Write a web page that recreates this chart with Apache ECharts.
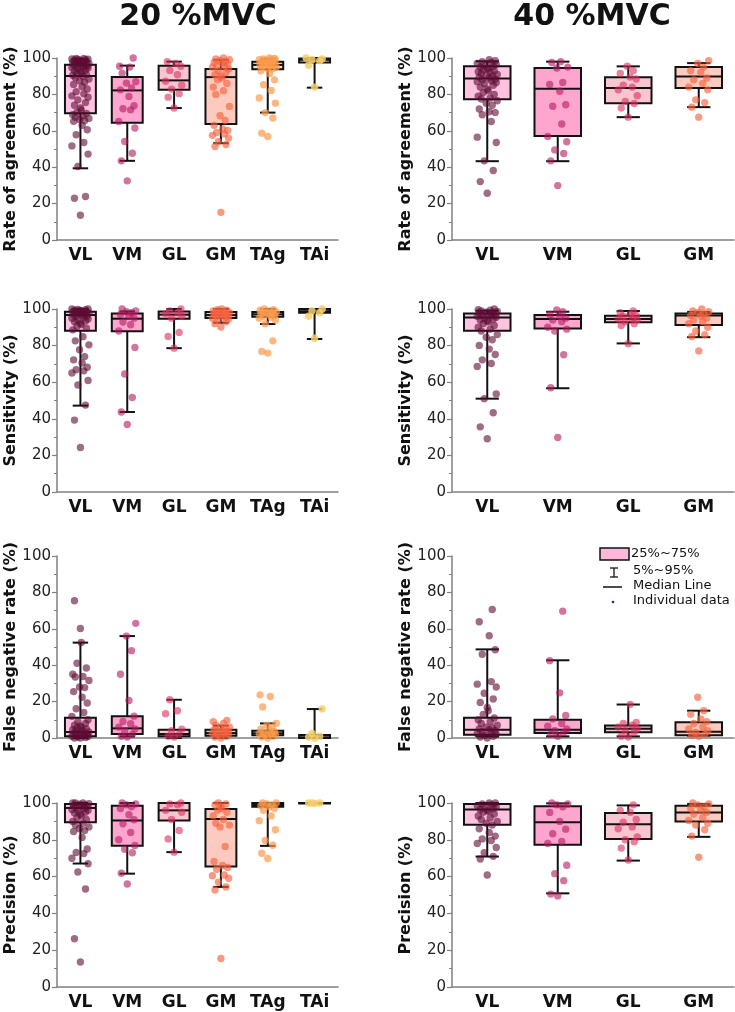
<!DOCTYPE html>
<html>
<head>
<meta charset="utf-8">
<script src="https://cdn.jsdelivr.net/npm/echarts@6/dist/echarts.min.js"></script>
<style>
html,body{margin:0;padding:0;background:#fff;}
#chart{width:735px;height:1012px;}
</style>
</head>
<body>
<div id="chart"></div>
<script>
// ---------- categories / labels ----------
const CAT20 = ['VL', 'VM', 'GL', 'GM', 'TAg', 'TAi'];
const CAT40 = ['VL', 'VM', 'GL', 'GM'];
const Y_NAMES = ['Rate of agreement (%)', 'Sensitivity (%)', 'False negative rate (%)', 'Precision (%)'];
const TITLES = ['20 %MVC', '40 %MVC'];
const LEGEND_LABELS = ['25%~75%', '5%~95%', 'Median Line', 'Individual data'];

// ---------- box statistics: [p5, q1, median, q3, p95] ----------
const AGREE20_BOX = [[39.4,69.7,90.1,96.3,99.4],[43.5,64.4,82.2,89.5,95.8],[72.5,82.6,87.7,95.8,98],[53.2,63.7,89.5,94,99],[70,93.8,96.2,98,99.5],[83.7,97.5,99,99.7,100]];
const AGREE40_BOX = [[43.3,77.4,88.8,95.4,98.2],[43.3,57.2,83.1,94.5,98],[67.5,75.2,83.5,89.4,95.4],[73,83.5,89.9,95,97.2]];
const SENS20_BOX = [[47.2,88.1,96.7,98.5,100],[43.7,87.8,94.7,97.6,98.7],[78.6,94.7,96.9,98.7,100],[92.5,95.1,96.7,98.4,100],[91.8,95.8,97.1,98.4,100],[83.6,98,98.8,100,100]];
const SENS40_BOX = [[51,88.1,95.4,97.6,99.1],[56.7,89.4,94.5,96.7,98.5],[81.2,92.7,94.5,96.3,98.9],[84.6,91.2,96.5,97.6,98.4]];
const FNR20_BOX = [[0,0.9,3.3,11.1,52.4],[0.9,2.2,5.3,11.9,56],[0,0.9,2.2,4.6,21],[0,1.3,2.7,4.6,6.8],[0,1.5,2.6,4,8],[0,0,0.4,1.6,15.9]];
const FNR40_BOX = [[0.9,1.8,4.6,11.1,48.7],[0.9,2.7,4.6,10,42.7],[0.9,3.1,5.1,6.8,18.4],[1.3,1.5,3.5,8.6,15]];
const PREC20_BOX = [[67.1,89.5,97.3,99.5,100],[61.6,76.7,90.5,98.5,100],[73.3,90.5,96,100,100],[54.4,65.5,91.3,96.7,100],[76.7,98,98.9,100,100],[100,100,100,100,100]];
const PREC40_BOX = [[70.9,88.2,96.4,99.5,100],[50.9,77.3,89.6,98.2,99.8],[68.7,80.5,88.5,94.5,98.7],[81.6,90,94.9,98.5,99.5]];

// ---------- individual data ----------
const AGREE20_PTS = [
  [13.6,22.9,23.9,40.4,47.2,51.7,53.6,57.8,60.6,63,65.2,65.7,66.2,66.8,67.5,68.3,68.8,69.5,70.2,71.5,72.5,74,75.5,77,78.5,79.2,80.3,81.5,83,84.2,85.5,86.7,87.5,88.4,89.2,90,90.5,91,91.5,92.2,92.8,93,93.4,94,94.5,94.6,95.1,95.5,95.6,96,96.2,96.4,96.8,97,97.2,97.5,97.8,98,98.1,98.4,98.7,98.8,99,99.2,99.3,99.5,99.7,99.8],
  [32.5,43.5,47.7,54.1,61.5,65.1,71.5,72.1,73.8,78.9,82.5,83.5,86.2,87,91.7,95,95.5,100],
  [72.5,78.5,80.4,82.9,85,87.2,90.8,93.2,95.5,97,98],
  [15.2,51.4,52.5,54,56,57.5,58.3,59.1,60.2,61,63,65.7,68.3,73.4,80,82,84,86,88,89,90,91,92,93,94,95,95.5,96,96.5,97,97.5,98,98.5,99,99.5,100],
  [56.9,58.7,67,70,75.2,78,82.2,85.3,88,91.4,93,94,94.5,95,95.5,96,96.3,96.6,97,97.3,97.6,98,98.2,98.5,98.8,99,99.2,99.5,99.7,100],
  [84,96,98.5,99,99.5,100]
];
const AGREE40_PTS = [
  [25.7,32.1,38.2,43.5,53.6,56.5,65.1,68.8,70,70.5,72,74,75.2,76.5,77.5,78,79,80,81,82,83,84,85,86,86.5,87,87.5,88,88.5,89,89.5,90,90.5,91,91.5,92,92.5,93,93.5,94,94.5,95,95.5,96,96.5,97,97.5,98,98.5,99],
  [29.9,43.5,47.5,49.5,54,56.9,63.7,73.5,74.3,81.7,85.5,86.5,94.5,95,97.5,98],
  [67.5,72.5,75,76.1,79.3,82.5,84,85,88.5,89.5,91.5,93,95.5],
  [67.5,73,75.5,77,82.5,84,86,88,89,92,93,95,97,98.5]
];
const SENS20_PTS = [
  [24.3,39.3,47.5,58.5,60.9,65,66.2,66.8,68.2,70.5,72.2,74,77.7,80.4,82.6,84.9,88.6,89.5,90.5,91.5,92.3,93,93.5,94,94.5,95,95.5,96,96.3,96.6,96.9,97.2,97.5,97.8,98,98.2,98.4,98.6,98.8,99,99.2,99.4,99.6,99.8,100,100],
  [36.9,43.7,51.6,64.5,79,88,91.4,92.9,95,96,97,98,98.5,99,100],
  [78.6,85,87.2,95,96,97.5,98,99,100],
  [90.1,92,93,94,94.5,95,95.5,96,96.3,96.6,97,97.3,97.6,98,98.3,98.6,99,99.3,99.6,100],
  [75.9,76.8,82.6,92,94,95,95.5,96,96.5,97,97.3,97.6,98,98.3,98.6,99,99.3,99.6,100],
  [84,96,98,99,100]
];
const SENS40_PTS = [
  [29.1,35.6,43.3,51,53.6,68.6,70.2,72.2,75.1,78.1,80.1,83.2,84.6,86,88,89,90,91,92,93,93.5,94,94.5,95,95.5,96,96.3,96.6,97,97.3,97.6,98,98.3,98.6,99,99.3,99.6,100],
  [29.8,57,75,88,89,90,93,94,95,96,97,98.5,99.5],
  [81,91,92,93,94,94.5,95,96,96.5,97,98,99],
  [77.1,85,86,88,90,92,93,94,95,96,96.5,97,98,98.5,99,100]
];
const FNR20_PTS = [
  [0,0,0.3,0.5,0.8,1,1.2,1.5,1.8,2,2.3,2.6,3,3.3,3.6,4,4.5,5,5.5,6,6.5,7,8,9,10,11.9,14,16.1,19.2,22.4,25.5,27.7,28,31.6,33.5,33.8,35,38.5,41.1,52.5,60.2,75.4],
  [0.5,1,2,4,5,6,7.8,9.1,12,20.6,35,48,56,63],
  [0.5,1,2,4,4.9,13.3,15,21],
  [0,0.5,1,1.5,2,2.5,3,3.3,3.6,4,4.5,5,5.5,6,7,8,9,9.7],
  [0,0.5,1,1.5,2,2.3,2.6,3,3.5,4,5,6,7,8,17,22.8,23.7],
  [0,0.5,1,2.5,16]
];
const FNR40_PTS = [
  [0,0.5,1,1.5,2,2.5,3,3.5,4,4.5,5,5.5,6,7,8,9,10,11,13,15,16.8,19.5,21.4,24.6,28,29.6,31,46,48.5,56.2,63.9,70.6],
  [1,2,3,4,5,6.5,8,10.5,12.4,24.8,42.5,69.7],
  [0.5,1,3,4,5,6,7,8,8.6,18.5],
  [1,1.5,2,3,4,5,6,8,9,10.5,13,15,22.4]
];
const PREC20_PTS = [
  [13.6,26.2,53.3,62.5,67,70,72.5,73.1,75,81.3,84.5,85,86,87,88,89,90,91,92,93,94,94.5,95,95.5,96,96.5,97,97.5,98,98.3,98.6,99,99.3,99.6,100,100,100],
  [56,61.8,73,74.9,76.9,80,84,88.7,90.9,93.6,97,98,99,99.5,100],
  [73.3,80.5,85.1,91,95,96,99,99.5,100],
  [15.5,52.7,54.4,57,59.1,60.5,60.9,64,65,66,68.2,76.4,87,88,89,91,93,95,96,97,98,99,99.5,100],
  [69.8,72.7,77,79.6,85.5,90.4,93,96,97,98,98.5,99,99.5,100,100],
  [99.8,100,100,100]
];
const PREC40_PTS = [
  [60.9,69.6,71,73,75.8,78,79.6,80.5,82,84,86,88,89,90,91,92,93,94,95,95.5,96,96.5,97,97.5,98,98.5,99,99.5,100,100],
  [49.5,50.5,57.8,61.6,66.2,78,79.1,83.3,85.8,90,94.9,98,99,99.5,100],
  [69,75.5,79,80,81.5,86,87,89.5,91,95,96,99],
  [70.5,82,85.5,88,89,90.5,92,94,95,96,97,98,99,99.5,100]
];

// ---------- styles ----------
const PT_COLORS = ['rgba(94,11,51,0.6)','rgba(179,25,95,0.6)','rgba(220,47,94,0.6)','rgba(247,98,63,0.65)','rgba(252,154,76,0.7)','rgba(247,207,106,0.85)'];
const BOX_FILL = ['#ffc2e0','#ffa6cf','#f9c5d1','#fdcabf','#fddcc4','#fbe3b4'];
const JIT = [0,-7,6,-3,9,-10,4,-5,8,2,-8,5,-1,10,-6,3,-9,7,-4,1];
const JIT_SCALE = [0.85, 1.0];
const FONT = 'DejaVu Sans';
const AXIS_GRAY = '#808080';

const panels = [
  {col:0,row:0,cats:CAT20,box:AGREE20_BOX,pts:AGREE20_PTS,name:Y_NAMES[0]},
  {col:1,row:0,cats:CAT40,box:AGREE40_BOX,pts:AGREE40_PTS,name:Y_NAMES[0]},
  {col:0,row:1,cats:CAT20,box:SENS20_BOX,pts:SENS20_PTS,name:Y_NAMES[1]},
  {col:1,row:1,cats:CAT40,box:SENS40_BOX,pts:SENS40_PTS,name:Y_NAMES[1]},
  {col:0,row:2,cats:CAT20,box:FNR20_BOX,pts:FNR20_PTS,name:Y_NAMES[2]},
  {col:1,row:2,cats:CAT40,box:FNR40_BOX,pts:FNR40_PTS,name:Y_NAMES[2]},
  {col:0,row:3,cats:CAT20,box:PREC20_BOX,pts:PREC20_PTS,name:Y_NAMES[3]},
  {col:1,row:3,cats:CAT40,box:PREC40_BOX,pts:PREC40_PTS,name:Y_NAMES[3]}
];
const COL_LEFT = [57, 452], COL_WIDTH = [281, 282];
const ROW_TOP = [58, 309, 556, 803], ROW_H = [182, 183, 182, 184];

const grid = [], xAxis = [], yAxis = [], series = [];
panels.forEach((p, i) => {
  grid.push({left: COL_LEFT[p.col], top: ROW_TOP[p.row], width: COL_WIDTH[p.col], height: ROW_H[p.row]});
  xAxis.push({
    type: 'category', gridIndex: i, data: p.cats,
    axisTick: {show: false},
    axisLine: {lineStyle: {color: AXIS_GRAY, width: 1.5}},
    axisLabel: {interval: 0, fontFamily: FONT, fontWeight: 'bold', fontSize: 17, color: '#111', margin: 7}
  });
  yAxis.push({
    type: 'value', gridIndex: i, min: 0, max: 100, interval: 20,
    name: p.name, nameLocation: 'middle', nameGap: 38,
    nameTextStyle: {fontFamily: FONT, fontWeight: 'bold', fontSize: 16, color: '#111'},
    axisLine: {show: true, lineStyle: {color: AXIS_GRAY, width: 1.5}},
    axisTick: {show: true, length: 5, lineStyle: {color: AXIS_GRAY, width: 1.2}},
    minorTick: {show: true, splitNumber: 2, length: 3, lineStyle: {color: AXIS_GRAY, width: 1}},
    splitLine: {show: false},
    axisLabel: {fontFamily: FONT, fontSize: 15, color: '#222', margin: 6}
  });
  const boxData = p.box.map((b, j) => [j].concat(b));
  series.push({
    type: 'custom', xAxisIndex: i, yAxisIndex: i, z: 2, silent: true,
    data: boxData,
    encode: {x: 0, y: [1, 2, 3, 4, 5]},
    renderItem: (params, api) => {
      const j = api.value(0);
      const bw = api.size([1, 0])[0];
      const w = bw * 0.66;
      const cx = api.coord([j, 0])[0];
      const yy = k => api.coord([j, api.value(k)])[1];
      const p5 = yy(1), q1 = yy(2), md = yy(3), q3 = yy(4), p95 = yy(5);
      const cap = w * 0.5;
      const ls = {stroke: '#111', lineWidth: 2};
      return {type: 'group', children: [
        {type: 'line', shape: {x1: cx, y1: q1, x2: cx, y2: p5}, style: ls},
        {type: 'line', shape: {x1: cx, y1: q3, x2: cx, y2: p95}, style: ls},
        {type: 'line', shape: {x1: cx - cap/2, y1: p5, x2: cx + cap/2, y2: p5}, style: ls},
        {type: 'line', shape: {x1: cx - cap/2, y1: p95, x2: cx + cap/2, y2: p95}, style: ls},
        {type: 'rect', shape: {x: cx - w/2, y: q3, width: w, height: Math.max(q1 - q3, 0.5)}, style: {fill: BOX_FILL[j], stroke: '#111', lineWidth: 2}},
        {type: 'line', shape: {x1: cx - w/2, y1: md, x2: cx + w/2, y2: md}, style: ls}
      ]};
    }
  });
  const ptData = [];
  p.pts.forEach((arr, j) => arr.forEach((v, k) => ptData.push([j, v, k])));
  const js = JIT_SCALE[p.col];
  series.push({
    type: 'custom', xAxisIndex: i, yAxisIndex: i, z: 3, silent: true,
    data: ptData,
    encode: {x: 0, y: 1},
    renderItem: (params, api) => {
      const j = api.value(0);
      const pt = api.coord([j, api.value(1)]);
      const off = JIT[api.value(2) % JIT.length] * js;
      return {type: 'circle', shape: {cx: pt[0] + off, cy: pt[1], r: 3.7}, style: {fill: PT_COLORS[j]}};
    }
  });
});

const txt = (x, y, text, font, align) => ({
  type: 'text', x: x, y: y, silent: true,
  style: {text: text, font: font, fill: '#111', textAlign: align || 'left', textVerticalAlign: 'middle', align: align || 'left', verticalAlign: 'middle'}
});
const graphic = [
  txt(198, 17, TITLES[0], 'bold 30px "DejaVu Sans"', 'center'),
  txt(592, 17, TITLES[1], 'bold 30px "DejaVu Sans"', 'center'),
  // legend
  {type: 'rect', silent: true, shape: {x: 600, y: 548, width: 29, height: 12}, style: {fill: '#ffb8d8', stroke: '#111', lineWidth: 1.5}},
  {type: 'line', silent: true, shape: {x1: 614, y1: 568, x2: 614, y2: 577}, style: {stroke: '#111', lineWidth: 1.3}},
  {type: 'line', silent: true, shape: {x1: 610, y1: 568, x2: 618, y2: 568}, style: {stroke: '#111', lineWidth: 1.3}},
  {type: 'line', silent: true, shape: {x1: 610, y1: 577, x2: 618, y2: 577}, style: {stroke: '#111', lineWidth: 1.3}},
  {type: 'line', silent: true, shape: {x1: 603, y1: 587, x2: 622, y2: 587}, style: {stroke: '#111', lineWidth: 1.5}},
  {type: 'circle', silent: true, shape: {cx: 613, cy: 602, r: 1.3}, style: {fill: '#6a1538'}},
  txt(631, 554, LEGEND_LABELS[0], '13px "DejaVu Sans"'),
  txt(633, 571, LEGEND_LABELS[1], '13px "DejaVu Sans"'),
  txt(633, 586, LEGEND_LABELS[2], '13px "DejaVu Sans"'),
  txt(633, 601, LEGEND_LABELS[3], '13px "DejaVu Sans"')
];

const chart = echarts.init(document.getElementById('chart'), null, {renderer: 'canvas'});
chart.setOption({
  animation: false,
  backgroundColor: '#fff',
  textStyle: {fontFamily: FONT},
  grid, xAxis, yAxis, series, graphic
});
</script>
</body>
</html>
